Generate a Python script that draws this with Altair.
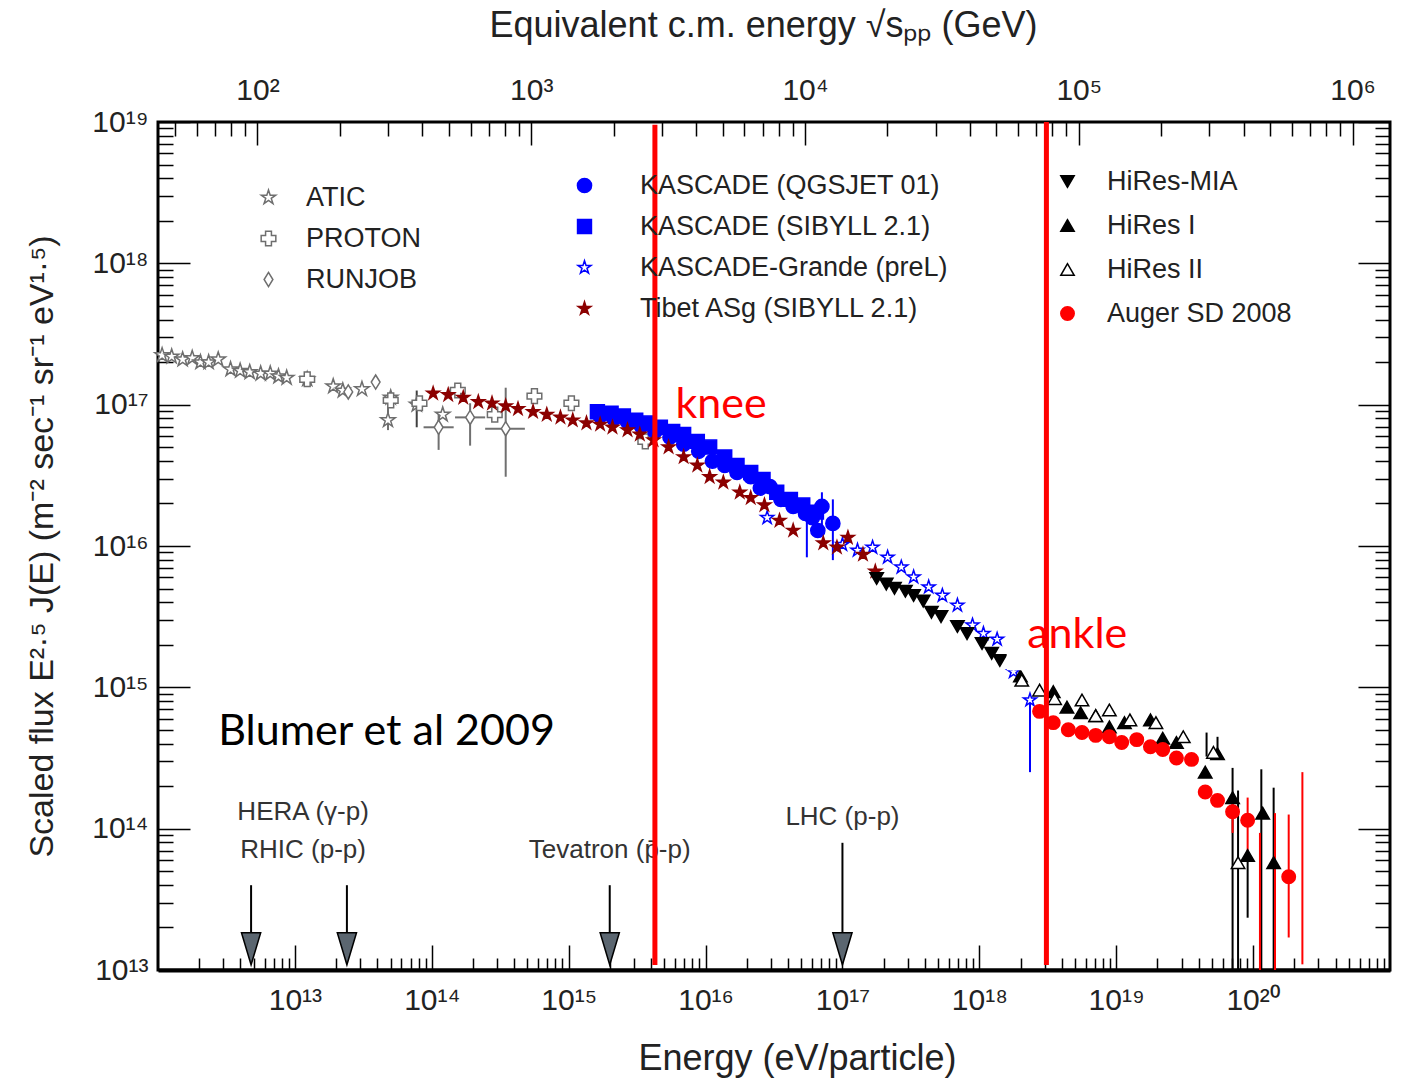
import altair as alt
import pandas as pd

# ---------------- data: log10(E / eV) and log10(E^2.5 J(E)) ----------------
ATIC_LOG_E = [12.03, 12.10, 12.18, 12.25, 12.31, 12.37, 12.44, 12.53, 12.60, 12.67, 12.75, 12.82, 12.88, 12.94,
              13.09, 13.28, 13.35, 13.49, 13.70, 13.68, 13.89, 14.08]
ATIC_LOG_F = [17.35, 17.34, 17.32, 17.33, 17.30, 17.30, 17.32, 17.25, 17.24, 17.23, 17.22, 17.22, 17.20, 17.19,
              17.18, 17.13, 17.10, 17.11, 17.05, 16.89, 17.00, 16.93]
PROTON_LOG_E = [13.09, 13.70, 13.91, 14.19, 14.46, 14.75, 15.02, 15.56]
PROTON_LOG_F = [17.18, 17.03, 17.01, 17.10, 16.93, 17.06, 17.01, 16.74]
RUNJOB_LOG_E = [13.39, 13.59, 14.05, 14.28, 14.54]
RUNJOB_LOG_F = [17.09, 17.16, 16.84, 16.91, 16.83]

KQ_LOG_E = [15.23, 15.33, 15.43, 15.53, 15.63, 15.74, 15.84, 15.95, 16.05, 16.14, 16.23, 16.33, 16.40, 16.47,
            16.55, 16.64, 16.73, 16.78, 16.85, 16.93, 16.82]
KQ_LOG_F = [16.92, 16.90, 16.88, 16.85, 16.81, 16.77, 16.72, 16.67, 16.60, 16.57, 16.52, 16.49, 16.41, 16.42,
            16.33, 16.28, 16.23, 16.20, 16.28, 16.16, 16.11]
KS_LOG_E = [15.21, 15.31, 15.40, 15.49, 15.57, 15.67, 15.76, 15.84, 15.94, 16.03, 16.14, 16.23, 16.33, 16.42,
            16.52, 16.62, 16.71, 16.81]
KS_LOG_F = [16.95, 16.94, 16.92, 16.89, 16.87, 16.84, 16.81, 16.79, 16.74, 16.70, 16.63, 16.57, 16.52, 16.47,
            16.38, 16.33, 16.29, 16.24]
GRANDE_LOG_E = [16.45, 17.00, 17.11, 17.22, 17.33, 17.43, 17.52, 17.63, 17.73, 17.84, 17.95, 18.03, 18.13, 18.25, 18.37]
GRANDE_LOG_F = [16.20, 16.01, 15.97, 15.99, 15.92, 15.85, 15.78, 15.71, 15.65, 15.58, 15.44, 15.38, 15.34, 15.11, 14.91]
TIBET_LOG_E = [14.01, 14.12, 14.23, 14.34, 14.44, 14.54, 14.63, 14.74, 14.84, 14.94, 15.03, 15.13, 15.23, 15.32,
               15.43, 15.52, 15.62, 15.73, 15.84, 15.94, 16.03, 16.13, 16.25, 16.33, 16.43, 16.54, 16.64, 16.86,
               16.96, 17.04, 17.15, 17.24]
TIBET_LOG_F = [17.08, 17.07, 17.05, 17.02, 17.01, 16.99, 16.97, 16.95, 16.93, 16.91, 16.89, 16.87, 16.86, 16.84,
               16.82, 16.79, 16.75, 16.70, 16.63, 16.57, 16.49, 16.45, 16.38, 16.34, 16.29, 16.18, 16.11, 16.02,
               15.99, 16.06, 15.94, 15.82]

MIA_LOG_E = [17.25, 17.32, 17.38, 17.46, 17.52, 17.59, 17.65, 17.72, 17.84, 17.91, 18.02, 18.09, 18.15]
MIA_LOG_F = [15.77, 15.73, 15.70, 15.68, 15.65, 15.61, 15.53, 15.50, 15.43, 15.38, 15.31, 15.24, 15.19]
HIRES1_LOG_E = [18.30, 18.54, 18.64, 18.74, 18.85, 18.95, 19.06, 19.25, 19.34, 19.44, 19.65, 19.74, 19.85, 19.96,
                20.07, 20.15]
HIRES1_LOG_F = [15.08, 14.97, 14.86, 14.82, 14.80, 14.72, 14.75, 14.77, 14.64, 14.61, 14.40, 14.53, 14.22, 13.81,
                14.11, 13.76]
HIRES2_LOG_E = [18.31, 18.44, 18.55, 18.75, 18.85, 18.95, 19.10, 19.29, 19.49, 19.71, 19.89]
HIRES2_LOG_F = [15.05, 14.98, 14.92, 14.91, 14.80, 14.84, 14.77, 14.75, 14.65, 14.54, 13.76]
AUGER_LOG_E = [18.44, 18.54, 18.65, 18.75, 18.85, 18.95, 19.04, 19.15, 19.25, 19.34, 19.44, 19.55, 19.65, 19.74,
               19.85, 19.96, 20.26]
AUGER_LOG_F = [14.83, 14.75, 14.70, 14.68, 14.66, 14.65, 14.61, 14.63, 14.58, 14.56, 14.50, 14.49, 14.26, 14.20,
               14.12, 14.06, 13.66]

# vertical error bars: log10 E, log10 low, log10 high, colour
ERR_LOG_E = [13.68, 13.89, 14.05, 14.28, 14.54, 16.85, 16.93, 16.74, 18.37,
             19.85, 19.89, 19.96, 20.06, 20.15, 19.66, 19.74,
             19.96, 19.85, 20.05, 20.16, 20.26, 20.36]
ERR_LOG_LO = [16.82, 16.84, 16.68, 16.71, 16.49, 16.09, 15.90, 15.92, 14.40,
              13.00, 13.00, 13.37, 13.00, 13.00, 14.51, 14.49,
              13.78, 13.97, 13.00, 13.00, 13.23, 13.04]
ERR_LOG_HI = [16.98, 17.10, 16.94, 17.01, 17.12, 16.38, 16.33, 16.18, 14.91,
              14.43, 14.27, 13.83, 14.42, 14.29, 14.68, 14.65,
              14.22, 14.22, 13.97, 14.11, 14.10, 14.40]
ERR_COLOR = ["#707070", "#404040", "#707070", "#707070", "#707070", "#0000ff", "#0000ff", "#0000ff", "#0000ff",
             "#000000", "#000000", "#000000", "#000000", "#000000", "#000000", "#000000",
             "#ff0000", "#ff0000", "#ff0000", "#ff0000", "#ff0000", "#ff0000"]
# horizontal error bars (RUNJOB)
HERR_LOG_LO = [13.94, 14.17, 14.39]
HERR_LOG_HI = [14.16, 14.39, 14.68]
HERR_LOG_F = [16.84, 16.91, 16.83]

# accelerator arrows
ACC_LOG_E = [12.68, 13.38, 15.30, 17.00]
ACC_LOG_TOP = [13.60, 13.60, 13.60, 13.90]
ACC_LOG_SHAFT_END = [13.26, 13.26, 13.26, 13.26]
ACC_LOG_HEAD = [13.15, 13.15, 13.15, 13.15]
ACC_LABELS = ["HERA (γ-p)", "RHIC (p-p)", "Tevatron (p\u0304-p)", "LHC (p-p)"]
ACC_LABEL_LOG_E = [13.06, 13.06, 15.30, 17.00]
ACC_LABEL_LOG_F = [14.12, 13.85, 13.85, 14.08]

# knee / ankle markers and annotations
FEATURE_LOG_E = [15.63, 18.49]
FEATURE_LOG_TOP = [18.98, 19.0]
FEATURE_LOG_BOTTOM = [13.035, 13.035]
NOTE_TEXT = ["knee", "ankle", "Blumer et al 2009"]
NOTE_COLOR = ["#ff0000", "#ff0000", "#000000"]
NOTE_LOG_E = [15.78, 18.35, 12.44]
NOTE_LOG_F = [16.905, 15.278, 14.592]
# white patch left of the ankle label (covers a few points in the original)
PATCH_LOG_E = [18.20, 18.465]
PATCH_LOG_F = [15.12, 15.30]

# axes
E_DOMAIN = [1e12, 1e21]
F_DOMAIN = [1e13, 1e19]
PROTON_MASS_GEV = 0.938
S_DOMAIN = [(2 * PROTON_MASS_GEV * E_DOMAIN[0] / 1e9) ** 0.5, (2 * PROTON_MASS_GEV * E_DOMAIN[1] / 1e9) ** 0.5]
E_TICKS = [1e13, 1e14, 1e15, 1e16, 1e17, 1e18, 1e19, 1e20]
E_TICK_LABELS = ["10¹³", "10¹⁴", "10¹⁵", "10¹⁶", "10¹⁷", "10¹⁸", "10¹⁹", "10²⁰"]
F_TICKS = [1e13, 1e14, 1e15, 1e16, 1e17, 1e18, 1e19]
F_TICK_LABELS = ["10¹³", "10¹⁴", "10¹⁵", "10¹⁶", "10¹⁷", "10¹⁸", "10¹⁹"]
S_TICKS = [1e2, 1e3, 1e4, 1e5, 1e6]
S_TICK_LABELS = ["10²", "10³", "10⁴", "10⁵", "10⁶"]
E_MINOR = [m * 10.0 ** k for k in range(12, 21) for m in range(2, 10)]
F_MINOR = [m * 10.0 ** k for k in range(13, 19) for m in range(2, 10)]
S_MINOR = [m * 10.0 ** k for k in range(1, 7) for m in range(2, 10) if S_DOMAIN[0] <= m * 10.0 ** k <= S_DOMAIN[1]]

X_TITLE = "Energy (eV/particle)"
Y_TITLE = "Scaled flux E²·⁵ J(E) (m⁻² sec⁻¹ sr⁻¹ eV¹·⁵)"
TOP_TITLE = "Equivalent c.m. energy √sₚₚ (GeV)"

FONT = "Liberation Sans"
STAR = ("M0,-1L0.2245,-0.309L0.951,-0.309L0.363,0.118L0.588,0.809L0,0.382L-0.588,0.809"
        "L-0.363,0.118L-0.951,-0.309L-0.2245,-0.309Z")
DIAMOND = "M0,-1L0.62,0L0,1L-0.62,0Z"
ARROW_HEAD = "M-0.6,-1L0.6,-1L0,1Z"

W, H = 1232, 848

xs = alt.Scale(type="log", domain=E_DOMAIN, nice=False)
ys = alt.Scale(type="log", domain=F_DOMAIN, nice=False)
ss = alt.Scale(type="log", domain=S_DOMAIN, nice=False)


def pw(vals):
    return [10.0 ** v for v in vals]


def label_expr(labels, first_exp):
    arr = "[" + ",".join("'" + s + "'" for s in labels) + "]"
    return arr + "[round(log(datum.value)/LN10) - " + str(first_exp) + "]"


AX = dict(grid=False, tickColor="black", tickWidth=1.5, labelFont=FONT, labelColor="#222222",
          titleFont=FONT, titleColor="#222222", titleFontWeight="normal", labelOverlap=False, labelFlush=False)

anchor = pd.DataFrame({"E": [1e15], "F": [1e15], "S": [1e3]})

axis_major = alt.Chart(anchor).mark_point(opacity=0).encode(
    x=alt.X("E:Q", scale=xs, axis=alt.Axis(
        orient="bottom", values=E_TICKS, labelExpr=label_expr(E_TICK_LABELS, 13),
        tickSize=alt.ExprRef(expr="-25"), labelPadding=40, labelFontSize=30,
        domain=True, domainColor="black", domainWidth=4,
        title=X_TITLE, titleFontSize=36, titleX=639, titleY=88, titleAlign="center",
        titleBaseline="middle", **AX)),
    y=alt.Y("F:Q", scale=ys, axis=alt.Axis(
        orient="left", values=F_TICKS, labelExpr=label_expr(F_TICK_LABELS, 13),
        tickSize=alt.ExprRef(expr="-32"), labelPadding=42, labelFontSize=30, domain=False,
        title=Y_TITLE, titleFontSize=34, titleX=-116, titleY=H / 2, titleAngle=270,
        titleAlign="center", titleBaseline="middle", **AX)),
)

axis_minor = alt.Chart(anchor).mark_point(opacity=0).encode(
    x=alt.X("E:Q", scale=xs, axis=alt.Axis(
        orient="bottom", values=E_MINOR, labels=False, tickSize=alt.ExprRef(expr="-12"),
        domain=False, title="", **AX)),
    y=alt.Y("F:Q", scale=ys, axis=alt.Axis(
        orient="left", values=F_MINOR, labels=False, tickSize=alt.ExprRef(expr="-15"),
        domain=False, title="", **AX)),
)

axis_top_major = alt.Chart(anchor).mark_point(opacity=0).encode(
    x=alt.X("S:Q", scale=ss, axis=alt.Axis(
        orient="top", values=S_TICKS, labelExpr=label_expr(S_TICK_LABELS, 2),
        tickSize=alt.ExprRef(expr="-23"), labelPadding=40, labelFontSize=30, domain=False,
        title=TOP_TITLE, titleFontSize=36, titleX=605, titleY=-97, titleAlign="center",
        titleBaseline="middle", **AX)),
    y=alt.Y("F:Q", scale=ys, axis=alt.Axis(
        orient="right", values=F_TICKS, labels=False, tickSize=alt.ExprRef(expr="-32"),
        domain=False, title="", **AX)),
)

axis_top_minor = alt.Chart(anchor).mark_point(opacity=0).encode(
    x=alt.X("S:Q", scale=ss, axis=alt.Axis(
        orient="top", values=S_MINOR, labels=False, tickSize=alt.ExprRef(expr="-14"),
        domain=False, title="", **AX)),
    y=alt.Y("F:Q", scale=ys, axis=alt.Axis(
        orient="right", values=F_MINOR, labels=False, tickSize=alt.ExprRef(expr="-15"),
        domain=False, title="", **AX)),
)

# error bars
err_df = pd.DataFrame({"E": pw(ERR_LOG_E), "lo": pw(ERR_LOG_LO), "hi": pw(ERR_LOG_HI), "c": ERR_COLOR})
err_v = alt.Chart(err_df).mark_rule(strokeWidth=2).encode(
    x=alt.X("E:Q", scale=xs, axis=None),
    y=alt.Y("lo:Q", scale=ys, axis=None),
    y2="hi:Q",
    color=alt.Color("c:N", scale=None),
)
herr_df = pd.DataFrame({"lo": pw(HERR_LOG_LO), "hi": pw(HERR_LOG_HI), "F": pw(HERR_LOG_F)})
err_h = alt.Chart(herr_df).mark_rule(strokeWidth=2, color="#707070").encode(
    x=alt.X("lo:Q", scale=xs, axis=None),
    x2="hi:Q",
    y=alt.Y("F:Q", scale=ys, axis=None),
)


def series_layer(groups, legend_x, legend_y, label_offset, row_padding):
    frames, names, shapes, fills, strokes, sizes = [], [], [], [], [], []
    for name, le, lf, shape, fill, stroke, size in groups:
        frames.append(pd.DataFrame({"dataset": name, "E": pw(le), "F": pw(lf)}))
        names.append(name)
        shapes.append(shape)
        fills.append(fill)
        strokes.append(stroke)
        sizes.append(size)
    df = pd.concat(frames, ignore_index=True)
    leg = alt.Legend(orient="none", legendX=legend_x, legendY=legend_y, direction="vertical", title=None,
                     labelFont=FONT, labelFontSize=27, labelColor="#222222", labelLimit=600,
                     symbolStrokeWidth=1.5, rowPadding=row_padding,
                     labelOffset=label_offset, padding=0)
    return alt.Chart(df).mark_point(filled=True, opacity=1, strokeWidth=1.5).encode(
        x=alt.X("E:Q", scale=xs, axis=None),
        y=alt.Y("F:Q", scale=ys, axis=None),
        shape=alt.Shape("dataset:N", scale=alt.Scale(domain=names, range=shapes), legend=leg),
        fill=alt.Fill("dataset:N", scale=alt.Scale(domain=names, range=fills), legend=leg),
        stroke=alt.Stroke("dataset:N", scale=alt.Scale(domain=names, range=strokes), legend=leg),
        size=alt.Size("dataset:N", scale=alt.Scale(domain=names, range=sizes), legend=leg),
    )


GRAY = "#6e6e6e"
col1 = series_layer([
    ("ATIC", ATIC_LOG_E, ATIC_LOG_F, STAR, "white", GRAY, 230),
    ("PROTON", PROTON_LOG_E, PROTON_LOG_F, "cross", "white", GRAY, 200),
    ("RUNJOB", RUNJOB_LOG_E, RUNJOB_LOG_F, DIAMOND, "white", GRAY, 180),
], 97, 62, 24, 13)

col2 = series_layer([
    ("KASCADE (QGSJET 01)", KQ_LOG_E, KQ_LOG_F, "circle", "#0000ff", "#0000ff", 200),
    ("KASCADE (SIBYLL 2.1)", KS_LOG_E, KS_LOG_F, "square", "#0000ff", "#0000ff", 180),
    ("KASCADE-Grande (preL)", GRANDE_LOG_E, GRANDE_LOG_F, STAR, "white", "#0000ff", 360),
    ("Tibet ASg (SIBYLL 2.1)", TIBET_LOG_E, TIBET_LOG_F, STAR, "#8b0000", "#8b0000", 340),
], 413, 50, 42, 13)

col3 = series_layer([
    ("HiRes-MIA", MIA_LOG_E, MIA_LOG_F, "triangle-down", "#000000", "#000000", 180),
    ("HiRes I", HIRES1_LOG_E, HIRES1_LOG_F, "triangle-up", "#000000", "#000000", 180),
    ("HiRes II", HIRES2_LOG_E, HIRES2_LOG_F, "triangle-up", "white", "#000000", 210),
    ("Auger SD 2008", AUGER_LOG_E, AUGER_LOG_F, "circle", "#ff0000", "#ff0000", 220),
], 896, 46, 26, 16)

patch_df = pd.DataFrame({"x1": [10.0 ** PATCH_LOG_E[0]], "x2": [10.0 ** PATCH_LOG_E[1]],
                         "y1": [10.0 ** PATCH_LOG_F[0]], "y2": [10.0 ** PATCH_LOG_F[1]]})
patch = alt.Chart(patch_df).mark_rect(color="white").encode(
    x=alt.X("x1:Q", scale=xs, axis=None), x2="x2:Q",
    y=alt.Y("y1:Q", scale=ys, axis=None), y2="y2:Q",
)

# accelerator arrows
acc_df = pd.DataFrame({"E": pw(ACC_LOG_E), "top": pw(ACC_LOG_TOP), "end": pw(ACC_LOG_SHAFT_END),
                       "head": pw(ACC_LOG_HEAD)})
shafts = alt.Chart(acc_df).mark_rule(strokeWidth=2, color="black").encode(
    x=alt.X("E:Q", scale=xs, axis=None),
    y=alt.Y("top:Q", scale=ys, axis=None),
    y2="end:Q",
)
heads = alt.Chart(acc_df).mark_point(shape=ARROW_HEAD, size=1024, filled=True, fill="#5b6670", stroke="black",
                                     strokeWidth=1.5, opacity=1).encode(
    x=alt.X("E:Q", scale=xs, axis=None),
    y=alt.Y("head:Q", scale=ys, axis=None),
)
acc_lab_df = pd.DataFrame({"E": pw(ACC_LABEL_LOG_E), "F": pw(ACC_LABEL_LOG_F), "t": ACC_LABELS})
acc_labels = alt.Chart(acc_lab_df).mark_text(font=FONT, fontSize=26, color="#333333", align="center",
                                             baseline="middle").encode(
    x=alt.X("E:Q", scale=xs, axis=None),
    y=alt.Y("F:Q", scale=ys, axis=None),
    text="t:N",
)

# knee / ankle lines and notes
feat_df = pd.DataFrame({"E": pw(FEATURE_LOG_E), "top": pw(FEATURE_LOG_TOP), "bot": pw(FEATURE_LOG_BOTTOM)})
feat_lines = alt.Chart(feat_df).mark_rule(strokeWidth=5, color="#ff0000").encode(
    x=alt.X("E:Q", scale=xs, axis=None),
    y=alt.Y("bot:Q", scale=ys, axis=None),
    y2="top:Q",
)
note_df = pd.DataFrame({"E": pw(NOTE_LOG_E), "F": pw(NOTE_LOG_F), "t": NOTE_TEXT, "c": NOTE_COLOR})
notes = alt.Chart(note_df).mark_text(font="Lato", fontSize=43, align="left", baseline="alphabetic").encode(
    x=alt.X("E:Q", scale=xs, axis=None),
    y=alt.Y("F:Q", scale=ys, axis=None),
    text="t:N",
    color=alt.Color("c:N", scale=None),
)

chart = alt.layer(
    axis_major, axis_minor, axis_top_major, axis_top_minor,
    err_v, err_h, col1, col2, col3, patch,
    shafts, heads, acc_labels, feat_lines, notes,
).resolve_scale(
    x="independent", y="independent", shape="independent", fill="independent",
    stroke="independent", size="independent", color="independent",
).resolve_axis(
    x="independent", y="independent",
).resolve_legend(
    shape="independent", fill="independent", stroke="independent", size="independent",
).properties(
    width=W, height=H,
    padding={"left": 158, "top": 122, "right": 14, "bottom": 111},
    autosize=alt.AutoSizeParams(type="none"),
    background="white",
).configure_view(
    stroke="black", strokeWidth=3,
)

chart.save("out.html", embed_options={"renderer": "svg", "actions": False})
